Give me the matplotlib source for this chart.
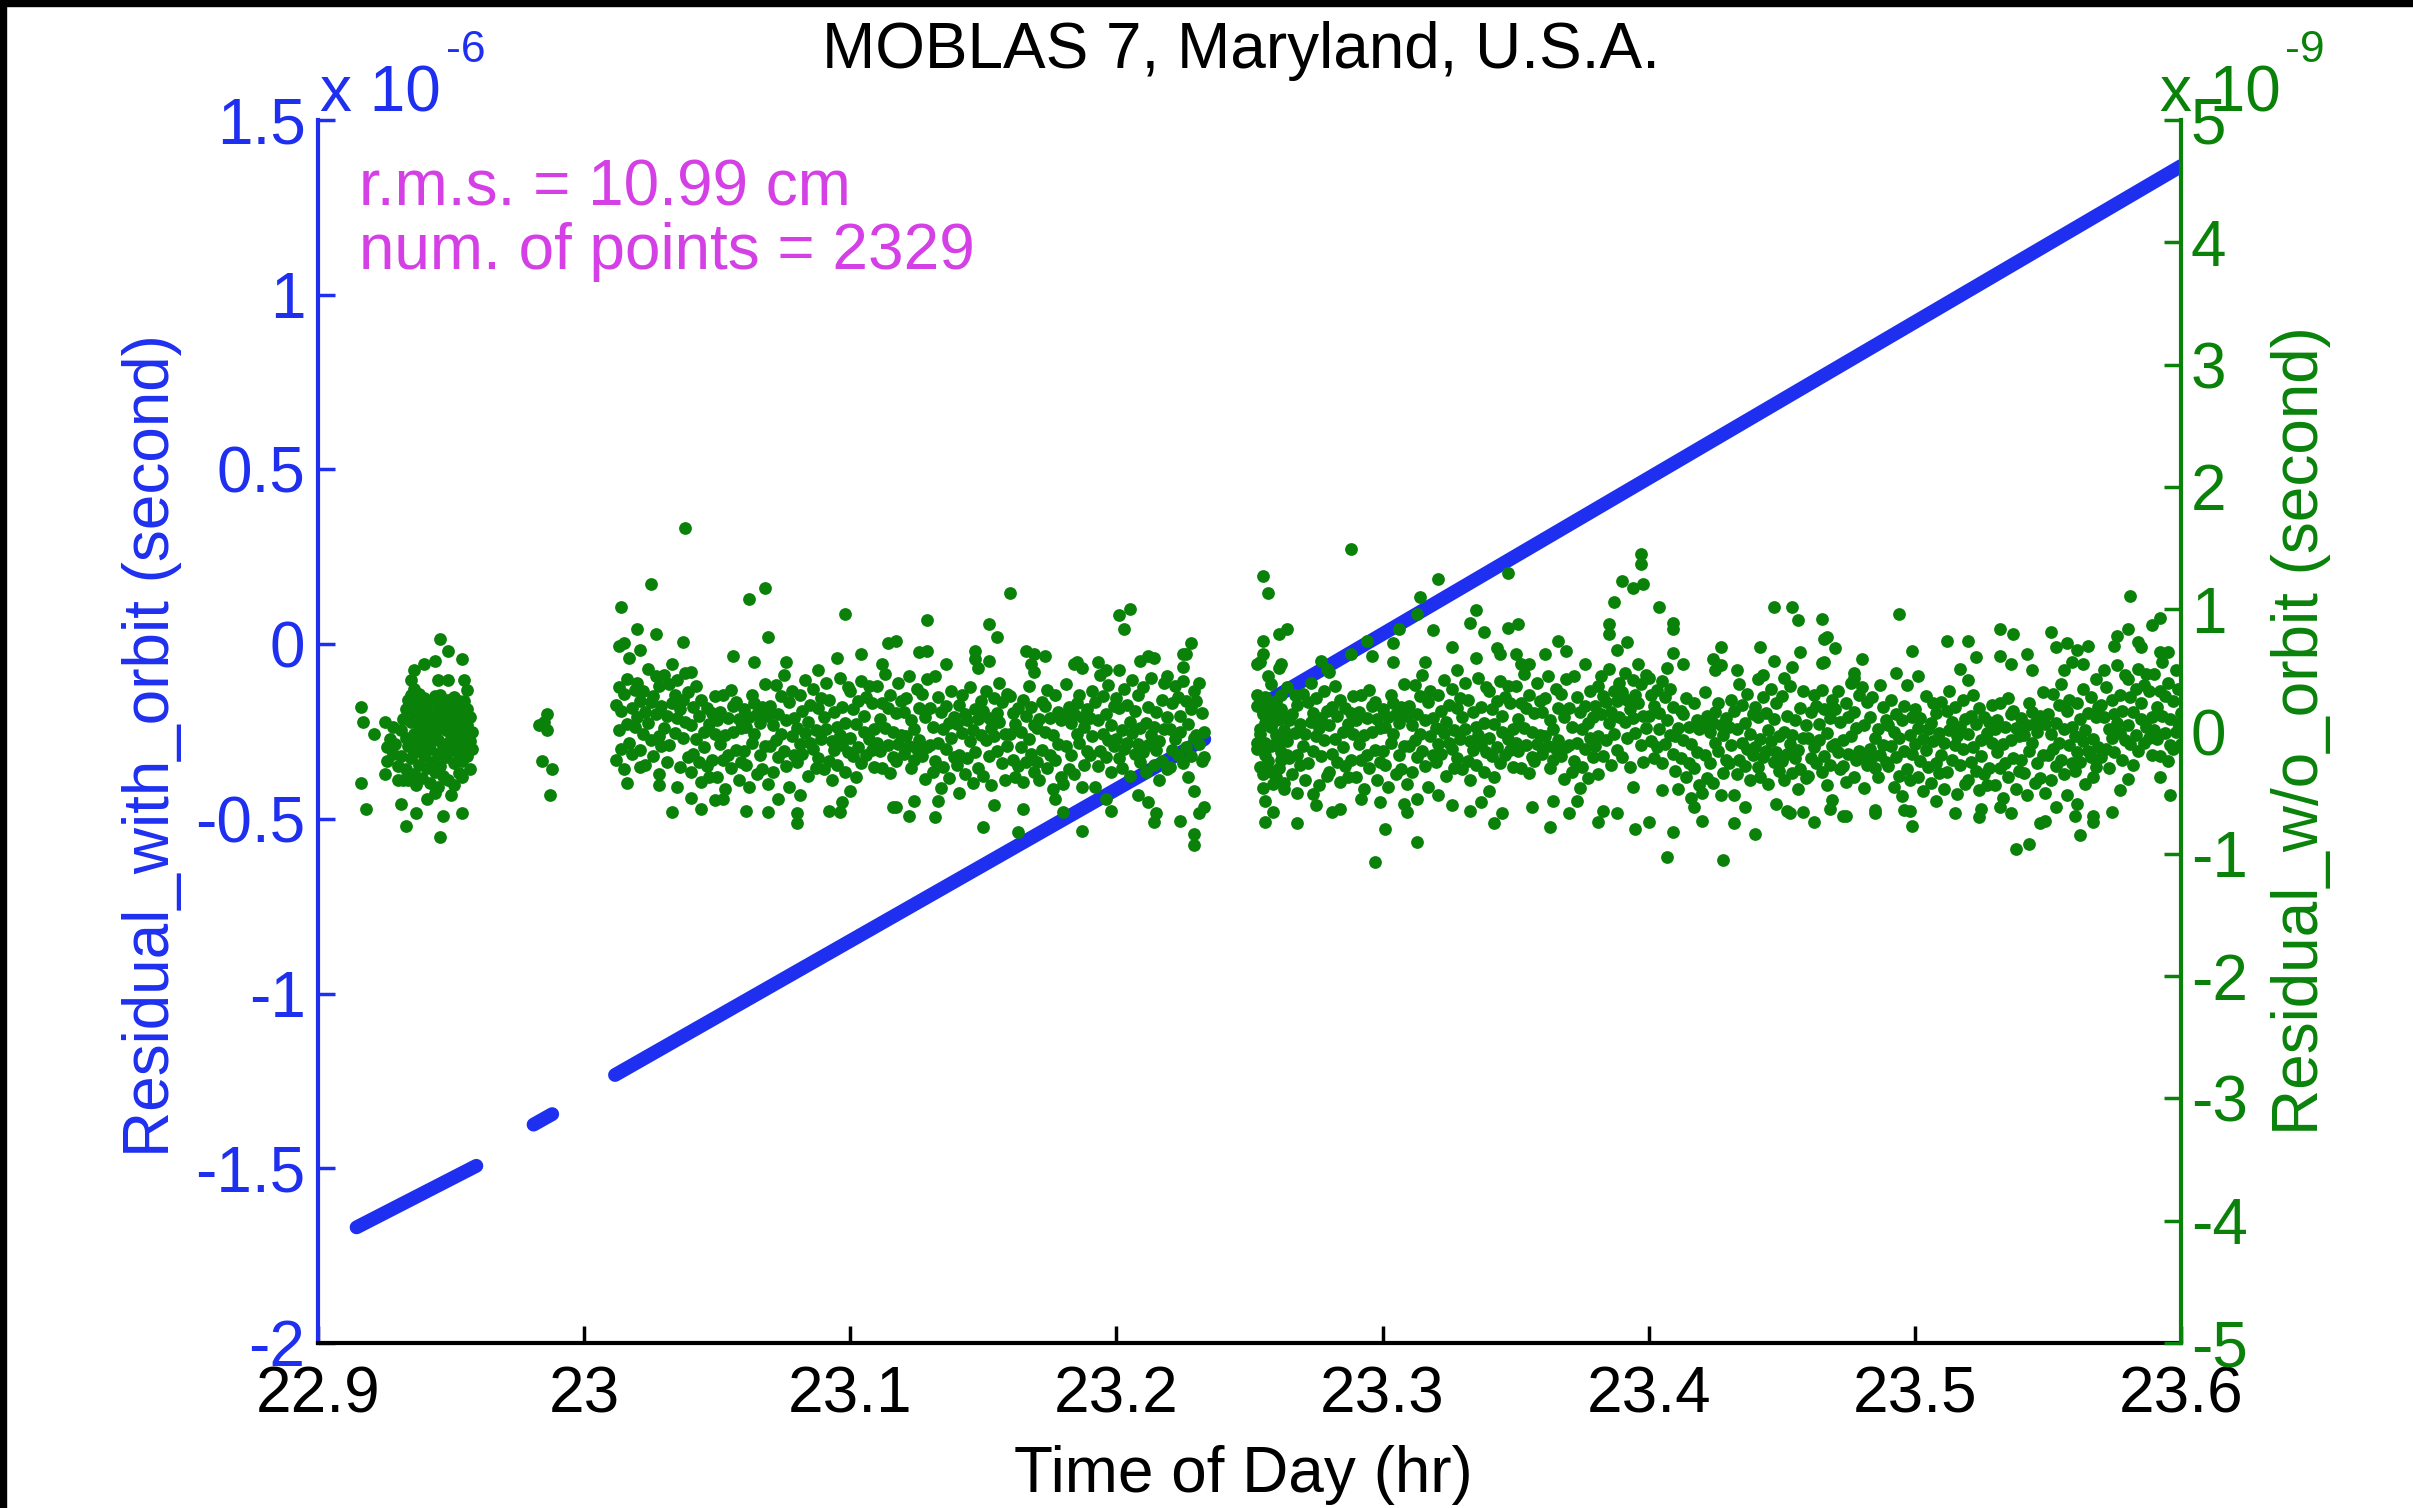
import matplotlib.pyplot as plt
from matplotlib.patches import Rectangle

# time of day in hours, residuals: blue in 1e-6 s, green in 1e-9 s

# blue residual (with orbit): straight runs between data gaps, (start, end)
blue_t = [(22.9145, 22.9595), (22.981, 22.988), (23.0116, 23.233), (23.2543, 23.600)]
blue_r = [(-1.669, -1.493), (-1.375, -1.345), (-1.233, -0.272), (-0.175, 1.368)]

# green residual (w/o orbit), first pass 22.915 - 22.958 h
green_a = [
    (22.916, 0.20), (22.917, 0.08), (22.921, -0.02), (22.916, -0.42), (22.918, -0.63),
    (22.925, 0.08), (22.928, 0.04), (22.931, 0.01), (22.926, -0.13), (22.926, -0.24),
    (22.925, -0.35), (22.930, -0.40), (22.932, -0.40), (22.928, -0.18), (22.930, -0.28),
    (22.927, -0.06), (22.929, -0.10), (22.931, -0.20), (22.932, 0.10),
    (22.936, 0.50), (22.935, 0.42), (22.936, 0.35), (22.940, 0.55), (22.944, 0.58),
    (22.946, 0.76), (22.949, 0.66), (22.954, 0.59), (22.945, 0.42), (22.949, 0.42),
    (22.955, 0.42), (22.956, 0.34), (22.955, 0.25),
    (22.931, -0.59), (22.933, -0.77), (22.937, -0.67), (22.946, -0.86), (22.947, -0.69),
    (22.954, -0.67), (22.954, -0.37), (22.957, -0.31), (22.958, -0.14), (22.958, 0.00),
    (22.941, -0.55), (22.944, -0.50), (22.950, -0.52),
    (22.933, -0.05), (22.933, 0.18), (22.933, -0.31), (22.934, 0.26), (22.934, -0.12),
    (22.934, -0.40), (22.935, 0.08), (22.935, -0.22), (22.935, 0.30), (22.936, -0.02),
    (22.936, 0.14), (22.936, -0.35), (22.936, -0.17), (22.937, 0.22), (22.937, -0.08),
    (22.937, -0.44), (22.938, 0.05), (22.938, -0.27), (22.938, 0.31), (22.938, -0.13),
    (22.939, -0.04), (22.939, 0.19), (22.939, -0.38), (22.940, 0.10), (22.940, -0.20),
    (22.940, 0.27), (22.940, -0.09), (22.941, -0.30), (22.941, 0.02), (22.941, 0.16),
    (22.942, 0.24), (22.942, -0.14), (22.942, -0.42), (22.942, 0.06), (22.943, -0.06),
    (22.943, 0.12), (22.943, -0.25), (22.944, 0.29), (22.944, -0.01), (22.944, -0.33),
    (22.944, 0.09), (22.945, -0.18), (22.945, 0.20), (22.945, -0.07), (22.945, -0.45),
    (22.946, 0.04), (22.946, 0.15), (22.946, -0.28), (22.946, 0.30), (22.947, -0.12),
    (22.947, 0.08), (22.947, -0.36), (22.947, 0.22), (22.948, 0.01), (22.948, -0.21),
    (22.948, 0.13), (22.949, -0.09), (22.949, 0.26), (22.949, -0.40), (22.949, 0.05),
    (22.950, 0.18), (22.950, -0.15), (22.950, -0.03), (22.951, -0.26), (22.951, 0.11),
    (22.951, 0.28), (22.951, -0.44), (22.952, 0.03), (22.952, -0.11), (22.952, 0.21),
    (22.953, -0.19), (22.953, 0.07), (22.953, -0.34), (22.953, 0.25), (22.954, 0.14),
    (22.954, -0.05), (22.954, -0.24), (22.955, -0.13), (22.955, 0.10), (22.955, 0.00),
    (22.956, 0.05), (22.956, -0.20), (22.956, 0.18), (22.957, -0.08), (22.957, 0.12),
]

# short pass near 22.985 h
green_b = [(22.986, 0.14), (22.983, 0.05), (22.986, 0.01), (22.984, -0.24),
           (22.988, -0.31), (22.987, -0.52), (22.985, 0.08)]

# main pass 23.012 - 23.233 h
green_c = [
    (23.012, -0.23), (23.012, 0.22), (23.013, 0.36), (23.013, 0.01), (23.014, -0.14), (23.014, 0.17),
    (23.015, 0.31), (23.015, -0.31), (23.016, 0.06), (23.016, 0.43), (23.017, 0.60), (23.017, -0.09),
    (23.018, 0.19), (23.018, -0.18), (23.019, 0.34), (23.019, 0.04), (23.013, 0.70), (23.016, -0.42),
    (23.020, 0.12), (23.020, 0.40), (23.021, -0.15), (23.021, 0.25), (23.022, 0.33), (23.022, -0.02),
    (23.023, -0.27), (23.023, 0.16), (23.024, 0.51), (23.024, 0.07), (23.025, -0.07), (23.025, 0.24),
    (23.026, 0.29), (23.026, -0.20), (23.027, 0.14), (23.027, 0.45), (23.028, -0.04), (23.028, 0.37),
    (23.029, -0.12), (23.029, 0.21), (23.021, 0.67), (23.028, -0.35),
    (23.030, 0.46), (23.030, 0.03), (23.031, 0.13), (23.031, -0.25), (23.032, 0.39), (23.032, -0.11),
    (23.033, 0.23), (23.033, 0.55), (23.034, -0.01), (23.034, 0.30), (23.035, 0.11), (23.035, 0.42),
    (23.036, -0.29), (23.036, 0.18), (23.037, 0.26), (23.037, -0.05), (23.038, 0.48), (23.038, 0.08),
    (23.039, -0.21), (23.039, 0.32), (23.035, -0.45), (23.037, 0.73),
    (23.040, -0.33), (23.040, 0.05), (23.041, 0.20), (23.041, -0.18), (23.042, -0.06), (23.042, 0.37),
    (23.043, -0.25), (23.043, 0.13), (23.044, 0.26), (23.044, -0.41), (23.045, 0.00), (23.045, -0.13),
    (23.046, 0.19), (23.046, -0.28), (23.047, -0.37), (23.047, 0.06), (23.048, 0.15), (23.048, -0.23),
    (23.049, 0.29), (23.049, -0.02), (23.040, 0.49), (23.044, -0.63),
    (23.050, 0.09), (23.050, -0.37), (23.051, 0.16), (23.051, -0.10), (23.052, -0.23), (23.052, 0.30),
    (23.053, -0.03), (23.053, -0.47), (23.054, 0.11), (23.054, -0.19), (23.055, 0.34), (23.055, -0.30),
    (23.056, 0.00), (23.056, 0.21), (23.057, -0.15), (23.057, 0.24), (23.058, -0.40), (23.058, 0.10),
    (23.059, 0.03), (23.059, -0.25), (23.056, 0.62), (23.052, -0.55),
    (23.060, -0.16), (23.060, 0.18), (23.061, 0.04), (23.061, -0.27), (23.062, 0.12), (23.062, -0.45),
    (23.063, 0.30), (23.063, -0.09), (23.064, -0.02), (23.064, 0.23), (23.065, -0.35), (23.065, 0.14),
    (23.066, 0.07), (23.066, -0.19), (23.067, 0.20), (23.067, -0.31), (23.068, -0.12), (23.068, 0.39),
    (23.069, 0.13), (23.069, -0.43), (23.064, 0.57), (23.069, -0.66),
    (23.070, -0.12), (23.070, 0.21), (23.071, -0.33), (23.071, 0.05), (23.072, 0.38), (23.072, -0.07),
    (23.073, -0.21), (23.073, 0.14), (23.074, 0.29), (23.074, -0.02), (23.075, -0.16), (23.075, 0.46),
    (23.076, 0.09), (23.076, -0.28), (23.077, -0.45), (23.077, 0.24), (23.078, -0.04), (23.078, 0.33),
    (23.079, -0.19), (23.079, 0.11), (23.073, -0.55), (23.076, 0.57),
    (23.080, 0.03), (23.080, -0.25), (23.081, 0.30), (23.081, -0.10), (23.082, -0.18), (23.082, 0.17),
    (23.083, 0.42), (23.083, -0.01), (23.084, -0.36), (23.084, 0.08), (23.085, 0.22), (23.085, -0.09),
    (23.086, -0.14), (23.086, 0.35), (23.087, 0.01), (23.087, -0.30), (23.088, 0.19), (23.088, -0.22),
    (23.089, 0.27), (23.089, -0.06), (23.081, -0.52), (23.088, 0.50),
    (23.090, -0.31), (23.090, 0.12), (23.091, 0.02), (23.091, 0.40), (23.092, -0.24), (23.092, 0.26),
    (23.093, -0.08), (23.093, -0.40), (23.094, 0.16), (23.094, -0.15), (23.095, 0.04), (23.095, -0.27),
    (23.096, 0.44), (23.096, -0.03), (23.097, -0.11), (23.097, 0.20), (23.098, -0.33), (23.098, 0.07),
    (23.099, 0.36), (23.099, -0.17), (23.095, 0.60), (23.097, -0.58),
    (23.100, 0.33), (23.100, -0.05), (23.101, -0.20), (23.101, 0.18), (23.102, 0.06), (23.102, -0.37),
    (23.103, 0.25), (23.103, -0.13), (23.104, -0.26), (23.104, 0.41), (23.105, 0.00), (23.105, 0.13),
    (23.106, -0.19), (23.106, 0.28), (23.107, 0.37), (23.107, -0.06), (23.108, -0.15), (23.108, 0.23),
    (23.109, -0.29), (23.109, 0.02), (23.100, -0.49), (23.104, 0.63),
    (23.110, -0.09), (23.110, 0.37), (23.111, -0.16), (23.111, 0.10), (23.112, 0.23), (23.112, -0.30),
    (23.113, 0.03), (23.113, 0.47), (23.114, -0.11), (23.114, 0.19), (23.115, -0.34), (23.115, 0.30),
    (23.116, 0.00), (23.116, -0.21), (23.117, 0.15), (23.117, -0.24), (23.118, 0.40), (23.118, -0.10),
    (23.119, -0.03), (23.119, 0.25), (23.116, -0.62), (23.112, 0.55),
    (23.120, 0.16), (23.120, -0.18), (23.121, -0.04), (23.121, 0.27), (23.122, -0.12), (23.122, 0.45),
    (23.123, -0.30), (23.123, 0.09), (23.124, 0.02), (23.124, -0.23), (23.125, 0.35), (23.125, -0.14),
    (23.126, -0.07), (23.126, 0.19), (23.127, -0.20), (23.127, 0.31), (23.128, 0.12), (23.128, -0.39),
    (23.129, -0.13), (23.129, 0.43), (23.124, -0.57), (23.129, 0.66),
    (23.139, 0.12), (23.139, -0.21), (23.138, 0.33), (23.138, -0.05), (23.137, -0.38), (23.137, 0.07),
    (23.136, 0.21), (23.136, -0.14), (23.135, -0.29), (23.135, 0.02), (23.134, 0.16), (23.134, -0.46),
    (23.133, -0.09), (23.133, 0.28), (23.132, 0.45), (23.132, -0.24), (23.131, 0.04), (23.131, -0.33),
    (23.130, 0.19), (23.130, -0.11), (23.136, 0.55), (23.133, -0.57),
    (23.149, -0.03), (23.149, 0.25), (23.148, -0.30), (23.148, 0.10), (23.147, 0.18), (23.147, -0.17),
    (23.146, -0.42), (23.146, 0.01), (23.145, 0.36), (23.145, -0.08), (23.144, -0.22), (23.144, 0.09),
    (23.143, 0.14), (23.143, -0.35), (23.142, -0.01), (23.142, 0.30), (23.141, -0.19), (23.141, 0.22),
    (23.140, -0.27), (23.140, 0.06), (23.148, 0.52), (23.141, -0.50),
    (23.159, 0.31), (23.159, -0.12), (23.158, -0.02), (23.158, -0.40), (23.157, 0.24), (23.157, -0.26),
    (23.156, 0.08), (23.156, 0.40), (23.155, -0.16), (23.155, 0.15), (23.154, -0.04), (23.154, 0.27),
    (23.153, -0.44), (23.153, 0.03), (23.152, 0.11), (23.152, -0.20), (23.151, 0.33), (23.151, -0.07),
    (23.150, -0.36), (23.150, 0.17), (23.154, -0.60), (23.152, 0.58),
    (23.169, -0.33), (23.169, 0.05), (23.168, 0.20), (23.168, -0.18), (23.167, -0.06), (23.167, 0.37),
    (23.166, -0.25), (23.166, 0.13), (23.165, 0.26), (23.165, -0.41), (23.164, 0.00), (23.164, -0.13),
    (23.163, 0.19), (23.163, -0.28), (23.162, -0.37), (23.162, 0.06), (23.161, 0.15), (23.161, -0.23),
    (23.160, 0.29), (23.160, -0.02), (23.169, 0.49), (23.165, -0.63),
    (23.179, 0.09), (23.179, -0.37), (23.178, 0.16), (23.178, -0.10), (23.177, -0.23), (23.177, 0.30),
    (23.176, -0.03), (23.176, -0.47), (23.175, 0.11), (23.175, -0.19), (23.174, 0.34), (23.174, -0.30),
    (23.173, 0.00), (23.173, 0.21), (23.172, -0.15), (23.172, 0.24), (23.171, -0.40), (23.171, 0.10),
    (23.170, 0.03), (23.170, -0.25), (23.173, 0.62), (23.177, -0.55),
    (23.189, -0.16), (23.189, 0.18), (23.188, 0.04), (23.188, -0.27), (23.187, 0.12), (23.187, -0.45),
    (23.186, 0.30), (23.186, -0.09), (23.185, -0.02), (23.185, 0.23), (23.184, -0.35), (23.184, 0.14),
    (23.183, 0.07), (23.183, -0.19), (23.182, 0.20), (23.182, -0.31), (23.181, -0.12), (23.181, 0.39),
    (23.180, 0.13), (23.180, -0.43), (23.185, 0.57), (23.180, -0.66),
    (23.199, -0.12), (23.199, 0.21), (23.198, -0.33), (23.198, 0.05), (23.197, 0.38), (23.197, -0.07),
    (23.196, -0.21), (23.196, 0.14), (23.195, 0.29), (23.195, -0.02), (23.194, -0.16), (23.194, 0.46),
    (23.193, 0.09), (23.193, -0.28), (23.192, -0.45), (23.192, 0.24), (23.191, -0.04), (23.191, 0.33),
    (23.190, -0.19), (23.190, 0.11), (23.196, -0.55), (23.193, 0.57),
    (23.209, 0.03), (23.209, -0.25), (23.208, 0.30), (23.208, -0.10), (23.207, -0.18), (23.207, 0.17),
    (23.206, 0.42), (23.206, -0.01), (23.205, -0.36), (23.205, 0.08), (23.204, 0.22), (23.204, -0.09),
    (23.203, -0.14), (23.203, 0.35), (23.202, 0.01), (23.202, -0.30), (23.201, 0.19), (23.201, -0.22),
    (23.200, 0.27), (23.200, -0.06), (23.208, -0.52), (23.201, 0.50),
    (23.219, -0.31), (23.219, 0.12), (23.218, 0.02), (23.218, 0.40), (23.217, -0.24), (23.217, 0.26),
    (23.216, -0.08), (23.216, -0.40), (23.215, 0.16), (23.215, -0.15), (23.214, 0.04), (23.214, -0.27),
    (23.213, 0.44), (23.213, -0.03), (23.212, -0.11), (23.212, 0.20), (23.211, -0.33), (23.211, 0.07),
    (23.210, 0.36), (23.210, -0.17), (23.214, 0.60), (23.212, -0.58),
    (23.229, 0.33), (23.229, -0.05), (23.228, -0.20), (23.228, 0.18), (23.227, 0.06), (23.227, -0.37),
    (23.226, 0.25), (23.226, -0.13), (23.225, -0.26), (23.225, 0.41), (23.224, 0.00), (23.224, 0.13),
    (23.223, -0.19), (23.223, 0.28), (23.222, 0.37), (23.222, -0.06), (23.221, -0.15), (23.221, 0.23),
    (23.220, -0.29), (23.220, 0.02), (23.229, -0.49), (23.225, 0.63),
    (23.233, 0.00), (23.233, -0.21), (23.232, 0.15), (23.232, -0.24), (23.231, 0.40), (23.231, -0.10),
    (23.230, -0.03), (23.230, 0.25), (23.233, -0.62),
]

green_c_out = [
    (23.038, 1.66), (23.025, 1.21), (23.014, 1.02), (23.020, 0.84), (23.015, 0.72), (23.027, 0.80),
    (23.062, 1.08), (23.068, 1.17), (23.069, 0.77), (23.098, 0.96), (23.114, 0.72), (23.117, 0.74),
    (23.033, -0.66), (23.040, -0.54), (23.049, -0.56), (23.061, -0.65), (23.080, -0.75), (23.080, -0.67),
    (23.092, -0.65), (23.096, -0.66), (23.117, -0.62), (23.122, -0.69), (23.028, -0.44), (23.021, -0.29),
    (23.160, 1.13), (23.129, 0.91), (23.152, 0.88), (23.155, 0.77), (23.126, 0.65), (23.147, 0.66),
    (23.147, 0.59), (23.201, 0.95), (23.205, 1.00), (23.203, 0.84), (23.228, 0.72), (23.226, 0.63),
    (23.225, 0.53), (23.166, 0.66), (23.169, 0.63), (23.168, 0.55), (23.184, 0.55), (23.187, 0.52),
    (23.196, 0.50), (23.209, 0.58), (23.212, 0.62), (23.219, 0.45),
    (23.132, -0.70), (23.150, -0.78), (23.163, -0.82), (23.187, -0.81), (23.198, -0.65), (23.214, -0.74),
    (23.215, -0.67), (23.224, -0.73), (23.229, -0.84), (23.229, -0.93), (23.231, -0.67),
]

# last pass 23.253 - 23.600 h
green_d = [
    (23.253, 0.30), (23.253, -0.09), (23.254, -0.02), (23.254, 0.23), (23.255, -0.35), (23.255, 0.14),
    (23.256, 0.07), (23.256, -0.19), (23.257, 0.20), (23.257, -0.31), (23.258, -0.12), (23.258, 0.39),
    (23.259, 0.13), (23.259, -0.43), (23.254, 0.57), (23.259, -0.66),
    (23.253, 0.21), (23.253, -0.14), (23.254, -0.29), (23.254, 0.02), (23.255, 0.16), (23.255, -0.46),
    (23.256, -0.09), (23.256, 0.28), (23.257, 0.45), (23.257, -0.24), (23.258, 0.04), (23.258, -0.33),
    (23.259, 0.19), (23.259, -0.11), (23.253, 0.55), (23.256, -0.57),
    (23.260, -0.03), (23.260, 0.25), (23.261, -0.30), (23.261, 0.10), (23.262, 0.18), (23.262, -0.17),
    (23.263, -0.42), (23.263, 0.01), (23.264, 0.36), (23.264, -0.08), (23.265, -0.22), (23.265, 0.09),
    (23.266, 0.14), (23.266, -0.35), (23.267, -0.01), (23.267, 0.30), (23.268, -0.19), (23.268, 0.22),
    (23.269, -0.27), (23.269, 0.06), (23.261, 0.52), (23.268, -0.50),
    (23.260, 0.09), (23.260, -0.37), (23.261, 0.16), (23.261, -0.10), (23.262, -0.23), (23.262, 0.30),
    (23.263, -0.03), (23.263, -0.47), (23.264, 0.11), (23.264, -0.19),
    (23.270, 0.31), (23.270, -0.12), (23.271, -0.02), (23.271, -0.40), (23.272, 0.24), (23.272, -0.26),
    (23.273, 0.08), (23.273, 0.40), (23.274, -0.16), (23.274, 0.15), (23.275, -0.04), (23.275, 0.27),
    (23.276, -0.44), (23.276, 0.03), (23.277, 0.11), (23.277, -0.20), (23.278, 0.33), (23.278, -0.07),
    (23.279, -0.36), (23.279, 0.17), (23.275, -0.60), (23.277, 0.58),
    (23.280, -0.33), (23.280, 0.05), (23.281, 0.20), (23.281, -0.18), (23.282, -0.06), (23.282, 0.37),
    (23.283, -0.25), (23.283, 0.13), (23.284, 0.26), (23.284, -0.41), (23.285, 0.00), (23.285, -0.13),
    (23.286, 0.19), (23.286, -0.28), (23.287, -0.37), (23.287, 0.06), (23.288, 0.15), (23.288, -0.23),
    (23.289, 0.29), (23.289, -0.02), (23.280, 0.49), (23.284, -0.63),
    (23.290, 0.09), (23.290, -0.37), (23.291, 0.16), (23.291, -0.10), (23.292, -0.23), (23.292, 0.30),
    (23.293, -0.03), (23.293, -0.47), (23.294, 0.11), (23.294, -0.19), (23.295, 0.34), (23.295, -0.30),
    (23.296, 0.00), (23.296, 0.21), (23.297, -0.15), (23.297, 0.24), (23.298, -0.40), (23.298, 0.10),
    (23.299, 0.03), (23.299, -0.25), (23.296, 0.62), (23.292, -0.55),
    (23.300, -0.16), (23.300, 0.18), (23.301, 0.04), (23.301, -0.27), (23.302, 0.12), (23.302, -0.45),
    (23.303, 0.30), (23.303, -0.09), (23.304, -0.02), (23.304, 0.23), (23.305, -0.35), (23.305, 0.14),
    (23.306, 0.07), (23.306, -0.19), (23.307, 0.20), (23.307, -0.31), (23.308, -0.12), (23.308, 0.39),
    (23.309, 0.13), (23.309, -0.43), (23.304, 0.57), (23.309, -0.66),
    (23.310, -0.12), (23.310, 0.21), (23.311, -0.33), (23.311, 0.05), (23.312, 0.38), (23.312, -0.07),
    (23.313, -0.21), (23.313, 0.14), (23.314, 0.29), (23.314, -0.02), (23.315, -0.16), (23.315, 0.46),
    (23.316, 0.09), (23.316, -0.28), (23.317, -0.45), (23.317, 0.24), (23.318, -0.04), (23.318, 0.33),
    (23.319, -0.19), (23.319, 0.11), (23.313, -0.55), (23.316, 0.57),
    (23.320, 0.03), (23.320, -0.25), (23.321, 0.30), (23.321, -0.10), (23.322, -0.18), (23.322, 0.17),
    (23.323, 0.42), (23.323, -0.01), (23.324, -0.36), (23.324, 0.08), (23.325, 0.22), (23.325, -0.09),
    (23.326, -0.14), (23.326, 0.35), (23.327, 0.01), (23.327, -0.30), (23.328, 0.19), (23.328, -0.22),
    (23.329, 0.27), (23.329, -0.06), (23.321, -0.52), (23.328, 0.50),
    (23.330, -0.31), (23.330, 0.12), (23.331, 0.02), (23.331, 0.40), (23.332, -0.24), (23.332, 0.26),
    (23.333, -0.08), (23.333, -0.40), (23.334, 0.16), (23.334, -0.15), (23.335, 0.04), (23.335, -0.27),
    (23.336, 0.44), (23.336, -0.03), (23.337, -0.11), (23.337, 0.20), (23.338, -0.33), (23.338, 0.07),
    (23.339, 0.36), (23.339, -0.17), (23.335, 0.60), (23.337, -0.58),
    (23.340, 0.33), (23.340, -0.05), (23.341, -0.20), (23.341, 0.18), (23.342, 0.06), (23.342, -0.37),
    (23.343, 0.25), (23.343, -0.13), (23.344, -0.26), (23.344, 0.41), (23.345, 0.00), (23.345, 0.13),
    (23.346, -0.19), (23.346, 0.28), (23.347, 0.37), (23.347, -0.06), (23.348, -0.15), (23.348, 0.23),
    (23.349, -0.29), (23.349, 0.02), (23.340, -0.49), (23.344, 0.63),
    (23.350, -0.09), (23.350, 0.37), (23.351, -0.16), (23.351, 0.10), (23.352, 0.23), (23.352, -0.30),
    (23.353, 0.03), (23.353, 0.47), (23.354, -0.11), (23.354, 0.19), (23.355, -0.34), (23.355, 0.30),
    (23.356, 0.00), (23.356, -0.21), (23.357, 0.15), (23.357, -0.24), (23.358, 0.40), (23.358, -0.10),
    (23.359, -0.03), (23.359, 0.25), (23.356, -0.62), (23.352, 0.55),
    (23.360, 0.16), (23.360, -0.18), (23.361, -0.04), (23.361, 0.27), (23.362, -0.12), (23.362, 0.45),
    (23.363, -0.30), (23.363, 0.09), (23.364, 0.02), (23.364, -0.23), (23.365, 0.35), (23.365, -0.14),
    (23.366, -0.07), (23.366, 0.19), (23.367, -0.20), (23.367, 0.31), (23.368, 0.12), (23.368, -0.39),
    (23.369, -0.13), (23.369, 0.43), (23.364, -0.57), (23.369, 0.66),
    (23.379, 0.12), (23.379, -0.21), (23.378, 0.33), (23.378, -0.05), (23.377, -0.38), (23.377, 0.07),
    (23.376, 0.21), (23.376, -0.14), (23.375, -0.29), (23.375, 0.02), (23.374, 0.16), (23.374, -0.46),
    (23.373, -0.09), (23.373, 0.28), (23.372, 0.45), (23.372, -0.24), (23.371, 0.04), (23.371, -0.33),
    (23.370, 0.19), (23.370, -0.11), (23.376, 0.55), (23.373, -0.57),
    (23.389, 0.12), (23.389, 0.40), (23.388, -0.15), (23.388, 0.25), (23.387, 0.33), (23.387, -0.02),
    (23.386, -0.27), (23.386, 0.16), (23.385, 0.51), (23.385, 0.07), (23.384, -0.07), (23.384, 0.24),
    (23.383, 0.29), (23.383, -0.20), (23.382, 0.14), (23.382, 0.45), (23.381, -0.04), (23.381, 0.37),
    (23.380, -0.12), (23.380, 0.21), (23.388, 0.67), (23.381, -0.35),
    (23.399, 0.46), (23.399, 0.03), (23.398, 0.13), (23.398, -0.25), (23.397, 0.39), (23.397, -0.11),
    (23.396, 0.23), (23.396, 0.55), (23.395, -0.01), (23.395, 0.30), (23.394, 0.11), (23.394, 0.42),
    (23.393, -0.29), (23.393, 0.18), (23.392, 0.26), (23.392, -0.05), (23.391, 0.48), (23.391, 0.08),
    (23.390, -0.21), (23.390, 0.32), (23.394, -0.45), (23.392, 0.73),
    (23.409, -0.18), (23.409, 0.20), (23.408, 0.35), (23.408, -0.03), (23.407, 0.09), (23.407, 0.52),
    (23.406, -0.10), (23.406, 0.28), (23.405, 0.41), (23.405, -0.26), (23.404, 0.15), (23.404, 0.02),
    (23.403, 0.34), (23.403, -0.13), (23.402, -0.22), (23.402, 0.21), (23.401, 0.30), (23.401, -0.08),
    (23.400, 0.44), (23.400, 0.13), (23.409, 0.64), (23.405, -0.48),
    (23.419, 0.02), (23.419, -0.44), (23.418, 0.09), (23.418, -0.17), (23.417, -0.30), (23.417, 0.23),
    (23.416, -0.10), (23.416, -0.54), (23.415, 0.04), (23.415, -0.26), (23.414, 0.27), (23.414, -0.37),
    (23.413, -0.07), (23.413, 0.14), (23.412, -0.22), (23.412, 0.17), (23.411, -0.47), (23.411, 0.03),
    (23.410, -0.04), (23.410, -0.32), (23.413, 0.55), (23.417, -0.62),
    (23.429, -0.23), (23.429, 0.11), (23.428, -0.03), (23.428, -0.34), (23.427, 0.05), (23.427, -0.52),
    (23.426, 0.23), (23.426, -0.16), (23.425, -0.09), (23.425, 0.16), (23.424, -0.42), (23.424, 0.07),
    (23.423, 0.00), (23.423, -0.26), (23.422, 0.13), (23.422, -0.38), (23.421, -0.19), (23.421, 0.32),
    (23.420, 0.06), (23.420, -0.50), (23.425, 0.50), (23.420, -0.73),
    (23.439, -0.19), (23.439, 0.14), (23.438, -0.40), (23.438, -0.02), (23.437, 0.31), (23.437, -0.14),
    (23.436, -0.28), (23.436, 0.07), (23.435, 0.22), (23.435, -0.09), (23.434, -0.23), (23.434, 0.39),
    (23.433, 0.02), (23.433, -0.35), (23.432, -0.52), (23.432, 0.17), (23.431, -0.11), (23.431, 0.26),
    (23.430, -0.26), (23.430, 0.04), (23.436, -0.62), (23.433, 0.50),
    (23.449, -0.04), (23.449, -0.32), (23.448, 0.23), (23.448, -0.17), (23.447, -0.25), (23.447, 0.10),
    (23.446, 0.35), (23.446, -0.08), (23.445, -0.43), (23.445, 0.01), (23.444, 0.15), (23.444, -0.16),
    (23.443, -0.21), (23.443, 0.28), (23.442, -0.06), (23.442, -0.37), (23.441, 0.12), (23.441, -0.29),
    (23.440, 0.20), (23.440, -0.13), (23.448, -0.59), (23.441, 0.43),
    (23.459, -0.38), (23.459, 0.05), (23.458, -0.05), (23.458, 0.33), (23.457, -0.31), (23.457, 0.19),
    (23.456, -0.15), (23.456, -0.47), (23.455, 0.09), (23.455, -0.22), (23.454, -0.03), (23.454, -0.34),
    (23.453, 0.37), (23.453, -0.10), (23.452, -0.18), (23.452, 0.13), (23.451, -0.40), (23.451, 0.00),
    (23.450, 0.29), (23.450, -0.24), (23.454, 0.53), (23.452, -0.65),
    (23.469, 0.26), (23.469, -0.12), (23.468, -0.27), (23.468, 0.11), (23.467, -0.01), (23.467, -0.44),
    (23.466, 0.18), (23.466, -0.20), (23.465, -0.33), (23.465, 0.34), (23.464, -0.07), (23.464, 0.06),
    (23.463, -0.26), (23.463, 0.21), (23.462, 0.30), (23.462, -0.13), (23.461, -0.22), (23.461, 0.16),
    (23.460, -0.36), (23.460, -0.05), (23.469, -0.56), (23.465, 0.56),
    (23.479, -0.16), (23.479, 0.30), (23.478, -0.23), (23.478, 0.03), (23.477, 0.16), (23.477, -0.37),
    (23.476, -0.04), (23.476, 0.40), (23.475, -0.18), (23.475, 0.12), (23.474, -0.41), (23.474, 0.23),
    (23.473, -0.07), (23.473, -0.28), (23.472, 0.08), (23.472, -0.31), (23.471, 0.33), (23.471, -0.17),
    (23.470, -0.10), (23.470, 0.18), (23.473, -0.69), (23.477, 0.48),
    (23.489, 0.09), (23.489, -0.25), (23.488, -0.11), (23.488, 0.20), (23.487, -0.19), (23.487, 0.38),
    (23.486, -0.37), (23.486, 0.02), (23.485, -0.05), (23.485, -0.30), (23.484, 0.28), (23.484, -0.21),
    (23.483, -0.14), (23.483, 0.12), (23.482, -0.27), (23.482, 0.24), (23.481, 0.05), (23.481, -0.46),
    (23.480, -0.20), (23.480, 0.36), (23.485, -0.64), (23.480, 0.59),
    (23.490, 0.05), (23.490, -0.28), (23.491, 0.26), (23.491, -0.12), (23.492, -0.45), (23.492, 0.00),
    (23.493, 0.14), (23.493, -0.21), (23.494, -0.36), (23.494, -0.05), (23.495, 0.09), (23.495, -0.53),
    (23.496, -0.16), (23.496, 0.21), (23.497, 0.38), (23.497, -0.31), (23.498, -0.03), (23.498, -0.40),
    (23.499, 0.12), (23.499, -0.18), (23.493, 0.48), (23.496, -0.64),
    (23.500, -0.10), (23.500, 0.18), (23.501, -0.37), (23.501, 0.03), (23.502, 0.11), (23.502, -0.24),
    (23.503, -0.49), (23.503, -0.06), (23.504, 0.29), (23.504, -0.15), (23.505, -0.29), (23.505, 0.02),
    (23.506, 0.07), (23.506, -0.42), (23.507, -0.08), (23.507, 0.23), (23.508, -0.26), (23.508, 0.15),
    (23.509, -0.34), (23.509, -0.01), (23.501, 0.45), (23.508, -0.57),
    (23.510, 0.24), (23.510, -0.19), (23.511, -0.09), (23.511, -0.47), (23.512, 0.17), (23.512, -0.33),
    (23.513, 0.01), (23.513, 0.33), (23.514, -0.23), (23.514, 0.08), (23.515, -0.11), (23.515, 0.20),
    (23.516, -0.51), (23.516, -0.04), (23.517, 0.04), (23.517, -0.27), (23.518, 0.26), (23.518, -0.14),
    (23.519, -0.43), (23.519, 0.10), (23.515, -0.67), (23.517, 0.51),
    (23.520, -0.40), (23.520, -0.02), (23.521, 0.13), (23.521, -0.25), (23.522, -0.13), (23.522, 0.30),
    (23.523, -0.32), (23.523, 0.06), (23.524, 0.19), (23.524, -0.48), (23.525, -0.07), (23.525, -0.20),
    (23.526, 0.12), (23.526, -0.35), (23.527, -0.44), (23.527, -0.01), (23.528, 0.08), (23.528, -0.30),
    (23.529, 0.22), (23.529, -0.09), (23.520, 0.42), (23.524, -0.70),
    (23.530, 0.02), (23.530, -0.44), (23.531, 0.09), (23.531, -0.17), (23.532, -0.30), (23.532, 0.23),
    (23.533, -0.10), (23.533, -0.54), (23.534, 0.04), (23.534, -0.26), (23.535, 0.27), (23.535, -0.37),
    (23.536, -0.07), (23.536, 0.14), (23.537, -0.22), (23.537, 0.17), (23.538, -0.47), (23.538, 0.03),
    (23.539, -0.04), (23.539, -0.32), (23.536, 0.55), (23.532, -0.62),
    (23.540, -0.23), (23.540, 0.11), (23.541, -0.03), (23.541, -0.34), (23.542, 0.05), (23.542, -0.52),
    (23.543, 0.23), (23.543, -0.16), (23.544, -0.09), (23.544, 0.16), (23.545, -0.42), (23.545, 0.07),
    (23.546, 0.00), (23.546, -0.26), (23.547, 0.13), (23.547, -0.38), (23.548, -0.19), (23.548, 0.32),
    (23.549, 0.06), (23.549, -0.50), (23.544, 0.50), (23.549, -0.73),
    (23.550, -0.19), (23.550, 0.14), (23.551, -0.40), (23.551, -0.02), (23.552, 0.31), (23.552, -0.14),
    (23.553, -0.28), (23.553, 0.07), (23.554, 0.22), (23.554, -0.09), (23.555, -0.23), (23.555, 0.39),
    (23.556, 0.02), (23.556, -0.35), (23.557, -0.52), (23.557, 0.17), (23.558, -0.11), (23.558, 0.26),
    (23.559, -0.26), (23.559, 0.04), (23.553, -0.62), (23.556, 0.50),
    (23.560, -0.04), (23.560, -0.32), (23.561, 0.23), (23.561, -0.17), (23.562, -0.25), (23.562, 0.10),
    (23.563, 0.35), (23.563, -0.08), (23.564, -0.43), (23.564, 0.01), (23.565, 0.15), (23.565, -0.16),
    (23.566, -0.21), (23.566, 0.28), (23.567, -0.06), (23.567, -0.37), (23.568, 0.12), (23.568, -0.29),
    (23.569, 0.20), (23.569, -0.13), (23.561, -0.59), (23.568, 0.43),
    (23.570, -0.21), (23.570, 0.22), (23.571, 0.12), (23.571, 0.50), (23.572, -0.14), (23.572, 0.36),
    (23.573, 0.02), (23.573, -0.30), (23.574, 0.26), (23.574, -0.05), (23.575, 0.14), (23.575, -0.17),
    (23.576, 0.54), (23.576, 0.07), (23.577, -0.01), (23.577, 0.30), (23.578, -0.23), (23.578, 0.17),
    (23.579, 0.46), (23.579, -0.07), (23.575, 0.70), (23.577, -0.48),
    (23.580, 0.43), (23.580, 0.05), (23.581, -0.10), (23.581, 0.28), (23.582, 0.16), (23.582, -0.27),
    (23.583, 0.35), (23.583, -0.03), (23.584, -0.16), (23.584, 0.51), (23.585, 0.10), (23.585, 0.23),
    (23.586, -0.09), (23.586, 0.38), (23.587, 0.47), (23.587, 0.04), (23.588, -0.05), (23.588, 0.33),
    (23.589, -0.19), (23.589, 0.12), (23.580, -0.39), (23.584, 0.73),
    (23.590, 0.01), (23.590, 0.47), (23.591, -0.06), (23.591, 0.20), (23.592, 0.33), (23.592, -0.20),
    (23.593, 0.13), (23.593, 0.57), (23.594, -0.01), (23.594, 0.29), (23.595, -0.24), (23.595, 0.40),
    (23.596, 0.10), (23.596, -0.11), (23.597, 0.25), (23.597, -0.14), (23.598, 0.50), (23.598, 0.00),
    (23.599, 0.07), (23.599, 0.35), (23.596, -0.52), (23.592, 0.65),
    (23.600, 0.15), (23.600, -0.10),
]

green_d_out = [
    (23.288, 1.49), (23.255, 1.27), (23.257, 1.13), (23.321, 1.25), (23.314, 1.10), (23.347, 1.30),
    (23.335, 0.99), (23.333, 0.89), (23.338, 0.81), (23.264, 0.84), (23.261, 0.80), (23.255, 0.74),
    (23.255, 0.63), (23.262, 0.55), (23.313, 0.96), (23.306, 0.84), (23.304, 0.72), (23.294, 0.74),
    (23.288, 0.63), (23.279, 0.51), (23.319, 0.83), (23.326, 0.69), (23.343, 0.68), (23.347, 0.85),
    (23.256, -0.74), (23.268, -0.75), (23.281, -0.66), (23.274, -0.51), (23.299, -0.58), (23.301, -0.80),
    (23.308, -0.59), (23.313, -0.90), (23.297, -1.07), (23.326, -0.60), (23.333, -0.65), (23.342, -0.75),
    (23.345, -0.67),
    (23.397, 1.45), (23.397, 1.37), (23.390, 1.23), (23.394, 1.17), (23.398, 1.21), (23.387, 1.06),
    (23.404, 1.02), (23.385, 0.88), (23.385, 0.80), (23.409, 0.89), (23.409, 0.84), (23.351, 0.88),
    (23.366, 0.74), (23.350, 0.63), (23.355, 0.55), (23.361, 0.63), (23.447, 1.02), (23.454, 1.02),
    (23.456, 0.91), (23.465, 0.92), (23.466, 0.76), (23.442, 0.69), (23.457, 0.65), (23.427, 0.69),
    (23.424, 0.59), (23.427, 0.54), (23.447, 0.58), (23.443, 0.46), (23.451, 0.44),
    (23.363, -0.78), (23.370, -0.67), (23.381, -0.74), (23.383, -0.65), (23.388, -0.67), (23.395, -0.80),
    (23.400, -0.74), (23.407, -1.03), (23.409, -0.82), (23.428, -1.05), (23.432, -0.75), (23.440, -0.84),
    (23.453, -0.67), (23.458, -0.66), (23.462, -0.74), (23.468, -0.63),
    (23.581, 1.11), (23.494, 0.96), (23.592, 0.93), (23.589, 0.87), (23.580, 0.84), (23.576, 0.78),
    (23.532, 0.84), (23.537, 0.80), (23.551, 0.81), (23.512, 0.74), (23.520, 0.74), (23.467, 0.77),
    (23.470, 0.68), (23.466, 0.57), (23.499, 0.66), (23.553, 0.69), (23.557, 0.72), (23.565, 0.70),
    (23.561, 0.67), (23.595, 0.65), (23.585, 0.69), (23.532, 0.62), (23.542, 0.63), (23.559, 0.57),
    (23.563, 0.55), (23.477, 0.44), (23.523, 0.61),
    (23.474, -0.69), (23.485, -0.67), (23.498, -0.65), (23.499, -0.77), (23.525, -0.63), (23.536, -0.67),
    (23.538, -0.96), (23.543, -0.92), (23.547, -0.75), (23.562, -0.85), (23.560, -0.69), (23.567, -0.69),
    (23.574, -0.66), (23.567, -0.74), (23.592, -0.37),
]

x_ticks = [22.9, 23.0, 23.1, 23.2, 23.3, 23.4, 23.5, 23.6]
x_labels = ['22.9', '23', '23.1', '23.2', '23.3', '23.4', '23.5', '23.6']
left_ticks = [-2, -1.5, -1, -0.5, 0, 0.5, 1, 1.5]
left_labels = ['-2', '-1.5', '-1', '-0.5', '0', '0.5', '1', '1.5']
right_ticks = [-5, -4, -3, -2, -1, 0, 1, 2, 3, 4, 5]
right_labels = ['-5', '-4', '-3', '-2', '-1', '0', '1', '2', '3', '4', '5']

BLUE = '#1e2ff0'
GREEN = '#0a820a'
MAGENTA = '#d43fe6'
FS = 46

plt.rcParams['font.family'] = ['Liberation Sans', 'DejaVu Sans']

W, H = 2413, 1508
fig = plt.figure(figsize=(W / 100, H / 100), dpi=100)
ax = fig.add_axes([318 / W, 1 - 1343 / H, (2181 - 318) / W, (1343 - 120) / H])

for (t0, t1), (r0, r1) in zip(blue_t, blue_r):
    ax.plot([t0, t1], [r0, r1], color=BLUE, lw=10, solid_capstyle='round')

ax.set_xlim(22.9, 23.6)
ax.set_ylim(-2, 1.5)
ax.set_xticks(x_ticks)
ax.set_xticklabels(x_labels)
ax.set_yticks(left_ticks)
ax.set_yticklabels(left_labels)
ax.spines['top'].set_visible(False)
ax.spines['right'].set_visible(False)
ax.spines['left'].set_color(BLUE)
ax.spines['left'].set_linewidth(3)
ax.spines['bottom'].set_color('black')
ax.spines['bottom'].set_linewidth(3)
ax.tick_params(axis='x', direction='in', length=12, width=2.5, labelsize=FS, pad=16, colors='black')
ax.tick_params(axis='y', direction='in', length=12, width=2.5, labelsize=FS, pad=9, colors=BLUE)

ax2 = ax.twinx()
green = green_a + green_b + green_c + green_c_out + green_d + green_d_out
ax2.plot([p[0] for p in green], [p[1] for p in green], 'o', color=GREEN, ms=9.2, mec='none')
ax2.set_xlim(22.9, 23.6)
ax2.set_ylim(-5, 5)
ax2.set_yticks(right_ticks)
ax2.set_yticklabels(right_labels)
for s in ['top', 'left', 'bottom']:
    ax2.spines[s].set_visible(False)
ax2.spines['right'].set_color(GREEN)
ax2.spines['right'].set_linewidth(3)
ax2.tick_params(axis='y', direction='in', length=12, width=2.5, labelsize=FS, pad=7, colors=GREEN)

# labels and annotations (pixel positions from the top-left corner)
def fx(px):
    return px / W

def fy(py):
    return 1 - py / H

fig.text(fx(1241), fy(68), 'MOBLAS 7, Maryland, U.S.A.', ha='center', va='baseline', fontsize=FS)
fig.text(fx(1243), fy(1492), 'Time of Day (hr)', ha='center', va='baseline', fontsize=FS)
fig.text(fx(152), fy(746), 'Residual_with_orbit (second)', rotation=90, ha='center', va='center',
         fontsize=FS, color=BLUE)
fig.text(fx(2301), fy(731), 'Residual_w/o_orbit (second)', rotation=90, ha='center', va='center',
         fontsize=FS, color=GREEN)
fig.text(fx(359), fy(205), 'r.m.s. = 10.99 cm', ha='left', va='baseline', fontsize=FS, color=MAGENTA)
fig.text(fx(359), fy(269), 'num. of points = 2329', ha='left', va='baseline', fontsize=FS, color=MAGENTA)

fig.text(fx(320), fy(111), 'x 10', ha='left', va='baseline', fontsize=FS, color=BLUE)
fig.text(fx(446), fy(62), '-6', ha='left', va='baseline', fontsize=32, color=BLUE)
fig.text(fx(2160), fy(111), 'x 10', ha='left', va='baseline', fontsize=FS, color=GREEN)
fig.text(fx(2285), fy(62), '-9', ha='left', va='baseline', fontsize=32, color=GREEN)

# black frame strips along top and left edges
fig.add_artist(Rectangle((0, fy(6)), 1, 6 / H, transform=fig.transFigure, color='black'))
fig.add_artist(Rectangle((0, 0), 6 / W, 1, transform=fig.transFigure, color='black'))

fig.savefig('out.png', dpi=100)
